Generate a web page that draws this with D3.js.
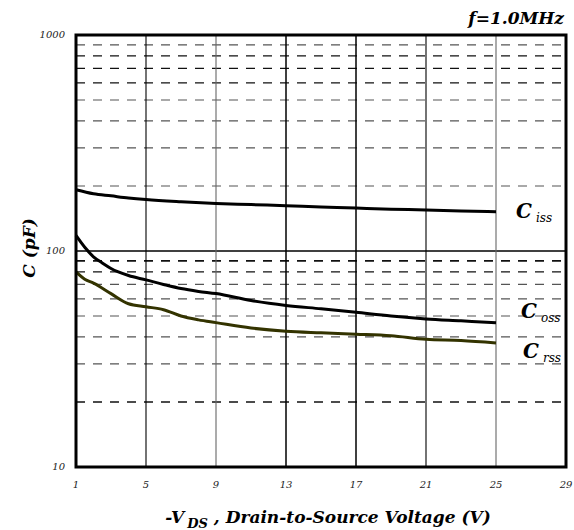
<!DOCTYPE html>
<html>
<head>
<meta charset="utf-8">
<script src="https://cdn.jsdelivr.net/npm/d3@7"></script>
<style>
  body { margin: 0; background: #fff; }
  svg text { font-family: "DejaVu Serif", "Liberation Serif", serif; font-style: italic; }
  .tick-label { font-size: 10px; fill: #222; }
  .axis-title { font-size: 17px; font-weight: bold; fill: #000; }
  .series-label { font-size: 20px; font-weight: bold; fill: #000; }
  .series-sub { font-size: 12px; font-weight: normal; }
</style>
</head>
<body>
<div id="chart"></div>
<script>
// -Vds (V) sample points
const vdsCiss = [1, 2, 3, 4, 5, 7, 9, 11, 13, 15, 17, 19, 21, 23, 25];
const ciss    = [192, 184, 180, 176, 173, 169, 166, 164, 162, 160, 158, 156, 155, 153, 152];
const vdsOss  = [1, 1.5, 2, 2.5, 3, 4, 5, 6, 7, 8, 9, 11, 13, 15, 17, 19, 21, 23, 25];
const coss    = [118, 104, 94, 88, 83, 77, 73.5, 70, 67, 65, 63.5, 59, 56, 54, 52, 50, 48.5, 47.5, 46.5];
const vdsRss  = [1, 1.5, 2, 3, 4, 5, 6, 7, 8, 9, 11, 13, 15, 17, 19, 21, 23, 25];
const crss    = [80, 74, 71, 63.5, 57, 55.2, 53.5, 50, 48, 46.6, 44, 42.5, 41.8, 41.2, 40.5, 39, 38.5, 37.5];

const xTicks = [1, 5, 9, 13, 17, 21, 25, 29];
const yTicks = [10, 100, 1000];
const yMinor = [20, 30, 40, 50, 60, 70, 80, 90, 200, 300, 400, 500, 600, 700, 800, 900];

const margin = { top: 35, right: 8, bottom: 63, left: 76 };
const width = 574 - margin.left - margin.right,
      height = 530 - margin.top - margin.bottom;

const svg = d3.select('#chart').append('svg')
  .attr('width', 574)
  .attr('height', 530);

const g = svg.append('g')
  .attr('transform', 'translate(' + margin.left + ',' + margin.top + ')');

const xScale = d3.scaleLinear().domain([1, 29]).range([0, width]);
const yScale = d3.scaleLog().domain([10, 1000]).range([height, 0]);

// dashed minor grid
const darkMinor = [20, 80, 90, 600, 700, 800];
g.selectAll('line.minor')
  .data(yMinor)
  .enter().append('line')
  .attr('class', 'minor')
  .attr('x1', 0).attr('x2', width)
  .attr('y1', d => yScale(d)).attr('y2', d => yScale(d))
  .attr('stroke', d => darkMinor.includes(d) ? '#111' : '#555')
  .attr('stroke-width', d => (d === 90 || d === 20) ? 1.6 : 1.2)
  .attr('stroke-dasharray', '9,8');

// solid 100 line
g.append('line')
  .attr('x1', 0).attr('x2', width)
  .attr('y1', yScale(100)).attr('y2', yScale(100))
  .attr('stroke', '#000')
  .attr('stroke-width', 1.3);

// vertical grid
g.selectAll('line.vgrid')
  .data(xTicks.slice(1, -1))
  .enter().append('line')
  .attr('class', 'vgrid')
  .attr('x1', d => xScale(d)).attr('x2', d => xScale(d))
  .attr('y1', 0).attr('y2', height)
  .attr('stroke', d => (d === 9 || d === 25) ? '#666' : '#000')
  .attr('stroke-width', d => (d === 13 || d === 17) ? 1.5 : 1.1);

// curves
const line = d3.line()
  .x(d => xScale(d[0]))
  .y(d => yScale(d[1]))
  .curve(d3.curveMonotoneX);

const series = [
  { x: vdsCiss, y: ciss, color: '#000' },
  { x: vdsOss, y: coss, color: '#000' },
  { x: vdsRss, y: crss, color: '#333300' }
];

series.forEach(s => {
  g.append('path')
    .datum(s.x.map((v, i) => [v, s.y[i]]))
    .attr('fill', 'none')
    .attr('stroke', s.color)
    .attr('stroke-width', 3)
    .attr('d', line);
});

// frame
g.append('rect')
  .attr('x', 0).attr('y', 0)
  .attr('width', width).attr('height', height)
  .attr('fill', 'none')
  .attr('stroke', '#000')
  .attr('stroke-width', 3);

// tick labels
g.selectAll('text.ytick')
  .data(yTicks)
  .enter().append('text')
  .attr('class', 'tick-label')
  .attr('x', -11)
  .attr('y', d => yScale(d) + 3)
  .attr('text-anchor', 'end')
  .text(d => d);

g.selectAll('text.xtick')
  .data(xTicks)
  .enter().append('text')
  .attr('class', 'tick-label')
  .attr('x', d => xScale(d))
  .attr('y', height + 21)
  .attr('text-anchor', 'middle')
  .text(d => d);

// series labels
const labels = [
  { sub: 'iss', x: 516, y: 218 },
  { sub: 'oss', x: 521, y: 318 },
  { sub: 'rss', x: 523, y: 358 }
];
labels.forEach(l => {
  const t = svg.append('text')
    .attr('class', 'series-label')
    .attr('x', l.x)
    .attr('y', l.y);
  t.append('tspan').text('C');
  t.append('tspan').attr('class', 'series-sub').attr('dx', 4).attr('dy', 4).text(l.sub);
});

// titles
svg.append('text')
  .attr('class', 'axis-title')
  .attr('x', 564)
  .attr('y', 24)
  .attr('text-anchor', 'end')
  .text('f=1.0MHz');

svg.append('text')
  .attr('class', 'axis-title')
  .attr('transform', 'translate(35, 248) rotate(-90)')
  .attr('text-anchor', 'middle')
  .text('C (pF)');

const xt = svg.append('text')
  .attr('class', 'axis-title')
  .attr('x', 328)
  .attr('y', 523)
  .attr('text-anchor', 'middle');
xt.append('tspan').text('-V');
xt.append('tspan').attr('dy', 5).style('font-size', '13px').attr('dx', 3).text('DS');
xt.append('tspan').attr('dy', -5).text(' , Drain-to-Source Voltage (V)');
</script>
</body>
</html>
